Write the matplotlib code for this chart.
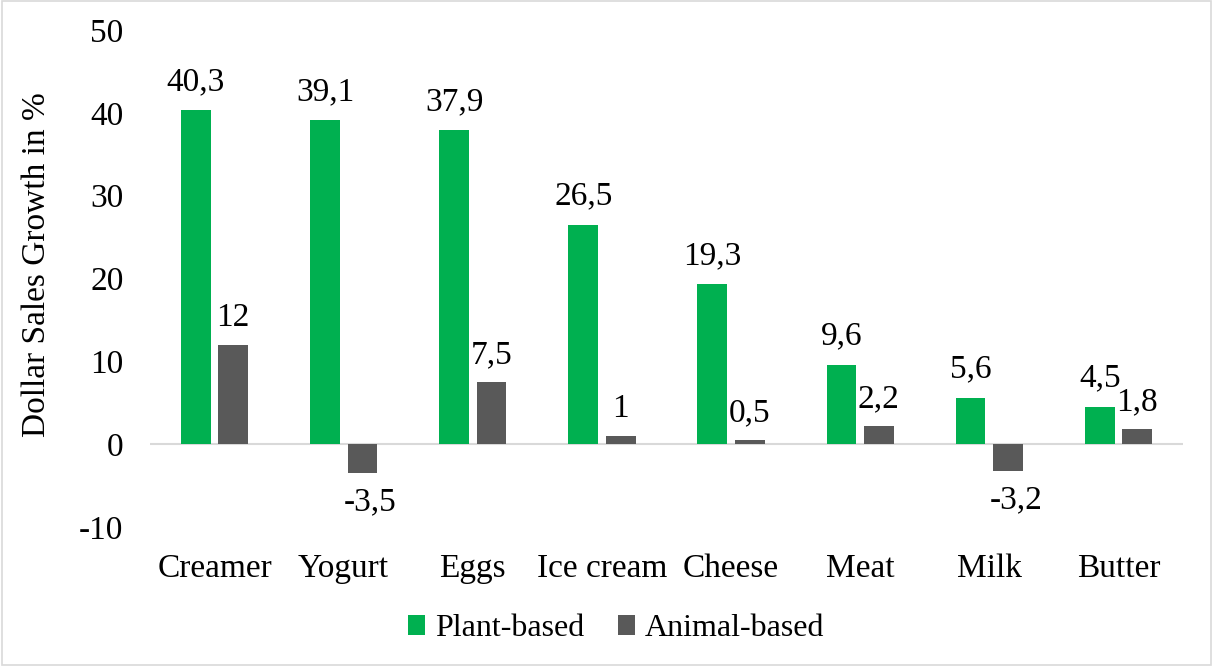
import matplotlib
matplotlib.use("Agg")
import matplotlib.pyplot as plt
import numpy as np
from matplotlib.patches import Rectangle

categories = ["Creamer", "Yogurt", "Eggs", "Ice cream", "Cheese", "Meat", "Milk", "Butter"]
plant = [40.3, 39.1, 37.9, 26.5, 19.3, 9.6, 5.6, 4.5]
animal = [12, -3.5, 7.5, 1, 0.5, 2.2, -3.2, 1.8]
yticks = [-10, 0, 10, 20, 30, 40, 50]

green = "#00B050"
gray = "#595959"

plt.rcParams['font.family'] = ['Liberation Serif', 'DejaVu Serif']

fig = plt.figure(figsize=(12.13, 6.66), dpi=100)
ax = fig.add_axes([150/1213, 1-527/666, (1183-150)/1213, (527-30)/666])

x = np.arange(len(categories))
w = 0.23
gap = 0.06
b1 = ax.bar(x - (w+gap)/2, plant, w, color=green, label="Plant-based", zorder=2)
b2 = ax.bar(x + (w+gap)/2, animal, w, color=gray, label="Animal-based", zorder=2)

FS = 24

def fmt(v):
    return ("%g" % v).replace(".", ",")

for rect, v in zip(b1, plant):
    ax.annotate(fmt(v), (rect.get_x()+rect.get_width()/2, v), xytext=(0, 9.5),
                textcoords="offset points", ha="center", va="bottom", fontsize=FS)
for rect, v in zip(b2, animal):
    if v >= 0:
        ax.annotate(fmt(v), (rect.get_x()+rect.get_width()/2, v), xytext=(0, 8.5),
                    textcoords="offset points", ha="center", va="bottom", fontsize=FS)
    else:
        ax.annotate(fmt(v), (rect.get_x()+rect.get_width()/2 + 0.06, v), xytext=(0, -10),
                    textcoords="offset points", ha="center", va="top", fontsize=FS)

ax.set_xlim(-0.5, len(categories)-0.5)
ax.set_ylim(-10, 50)
ax.set_yticks(yticks)
ax.set_yticklabels([str(t) for t in yticks], fontsize=FS)
ax.set_xticks(x)
ax.set_xticklabels(categories, fontsize=FS)
ax.tick_params(axis='both', length=0)
ax.tick_params(axis='x', pad=19)
ax.tick_params(axis='y', pad=19)
for s in ax.spines.values():
    s.set_visible(False)
ax.axhline(0, color="#D9D9D9", lw=1.5, zorder=1)

ax.set_ylabel("Dollar Sales Growth in %", fontsize=FS)
ax.yaxis.set_label_coords(-0.095, 0.527)

leg = ax.legend(loc="center", bbox_to_anchor=(0.451, -0.205), ncol=2, frameon=False,
                fontsize=FS - 1, handlelength=0.55, handleheight=0.55, handletextpad=0.3,
                columnspacing=1.05)

fig.patches.append(Rectangle((0.002, 0.002), 0.996, 0.996, transform=fig.transFigure,
                             fill=False, edgecolor="#D9D9D9", lw=1.2))

fig.savefig("out.png", dpi=100)
